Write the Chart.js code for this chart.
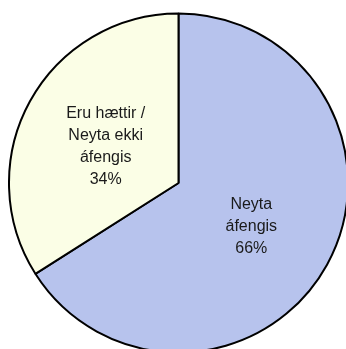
<!DOCTYPE html>
<html>
<head>
<meta charset="utf-8">
<script src="https://cdn.jsdelivr.net/npm/chart.js@4"></script>
<style>
    html, body { margin: 0; padding: 0; background: #fff; overflow: hidden; }
    #wrap { position: absolute; left: 8px; top: 12px; width: 341px; height: 342px; }
</style>
</head>
<body>
<div id="wrap"><canvas id="pieChart"></canvas></div>
<script>
// slice data, clockwise from 12 o'clock
const categories = [
    ['Neyta', 'áfengis'],
    ['Eru hættir /', 'Neyta ekki', 'áfengis']
];
const shares = [66, 34];
const sliceColors = ['#b7c3ed', '#fbfee6'];

// draws the category name and percentage inside each slice
const sliceLabels = {
    id: 'sliceLabels',
    afterDatasetsDraw(chart) {
        const ctx = chart.ctx;
        const meta = chart.getDatasetMeta(0);
        ctx.save();
        ctx.font = '16px "Liberation Sans", Arial, sans-serif';
        ctx.fillStyle = '#1a1a1a';
        ctx.textAlign = 'center';
        ctx.textBaseline = 'middle';
        meta.data.forEach((arc, i) => {
            const p = arc.getProps(['x', 'y', 'startAngle', 'endAngle', 'outerRadius'], true);
            const mid = (p.startAngle + p.endAngle) / 2;
            const r = p.outerRadius * 0.49;
            const cx = p.x + Math.cos(mid) * r;
            const cy = p.y + Math.sin(mid) * r + 4;
            const lines = categories[i].concat([shares[i] + '%']);
            const lh = 22;
            const top = cy - (lines.length - 1) * lh / 2;
            lines.forEach((line, j) => ctx.fillText(line, cx, top + j * lh));
        });
        ctx.restore();
    }
};

document.addEventListener('DOMContentLoaded', () => {
    const ctx = document.getElementById('pieChart').getContext('2d');
    new Chart(ctx, {
        type: 'pie',
        data: {
            labels: categories.map(c => c.join(' ')),
            datasets: [{
                data: shares,
                backgroundColor: sliceColors,
                borderColor: '#000',
                borderWidth: 2
            }]
        },
        options: {
            responsive: true,
            maintainAspectRatio: false,
            animation: false,
            plugins: {
                legend: { display: false },
                tooltip: { enabled: false }
            }
        },
        plugins: [sliceLabels]
    });
});
</script>
</body>
</html>
